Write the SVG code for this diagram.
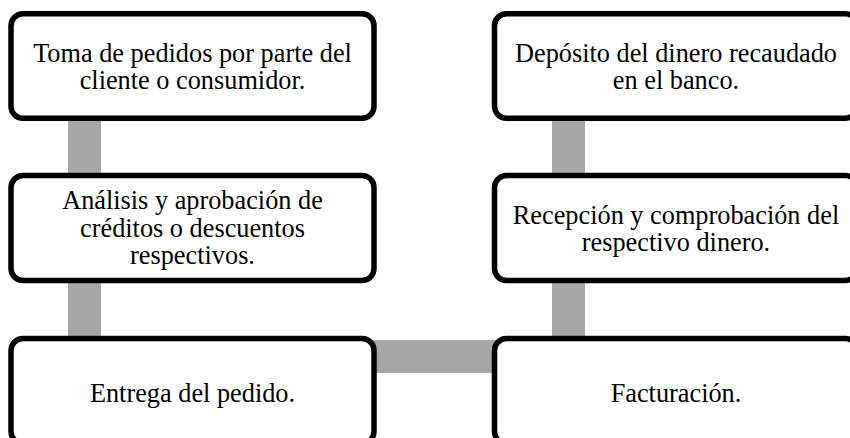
<svg xmlns="http://www.w3.org/2000/svg" width="850" height="438" viewBox="0 0 850 438">
<style>
.box{fill:#fff;stroke:#000;stroke-width:5.5}
.con{fill:#a6a6a6}
text{font-family:"Liberation Serif","Times New Roman",serif;font-size:26.3px;fill:#000;text-anchor:middle}
</style>
<rect width="850" height="438" fill="#fff"/>
<g id="connectors">
<rect class="con" x="68" y="110" width="33" height="235"/>
<rect class="con" x="552" y="110" width="33" height="235"/>
<rect class="con" x="370" y="340" width="128" height="33"/>
</g>
<g id="n1">
<rect class="box" x="11" y="13.75" width="363" height="104.5" rx="12"/>
<text x="192.5" y="61.5">Toma de pedidos por parte del</text>
<text x="192.5" y="89">cliente o consumidor.</text>
</g>
<g id="n2">
<rect class="box" x="11" y="175.5" width="363" height="105" rx="12"/>
<text x="192.5" y="209">Análisis y aprobación de</text>
<text x="192.5" y="236.5">créditos o descuentos</text>
<text x="192.5" y="264">respectivos.</text>
</g>
<g id="n3">
<rect class="box" x="11" y="338.5" width="363" height="105" rx="12"/>
<text x="192.5" y="401.5">Entrega del pedido.</text>
</g>
<g id="n4">
<rect class="box" x="494.5" y="338.5" width="363" height="105" rx="12"/>
<text x="676" y="401.5">Facturación.</text>
</g>
<g id="n5">
<rect class="box" x="494.5" y="175.5" width="363" height="105" rx="12"/>
<text x="676" y="223.5">Recepción y comprobación del</text>
<text x="676" y="251">respectivo dinero.</text>
</g>
<g id="n6">
<rect class="box" x="494.5" y="13.75" width="363" height="104.5" rx="12"/>
<text x="676" y="61.5">Depósito del dinero recaudado</text>
<text x="676" y="89">en el banco.</text>
</g>
</svg>
